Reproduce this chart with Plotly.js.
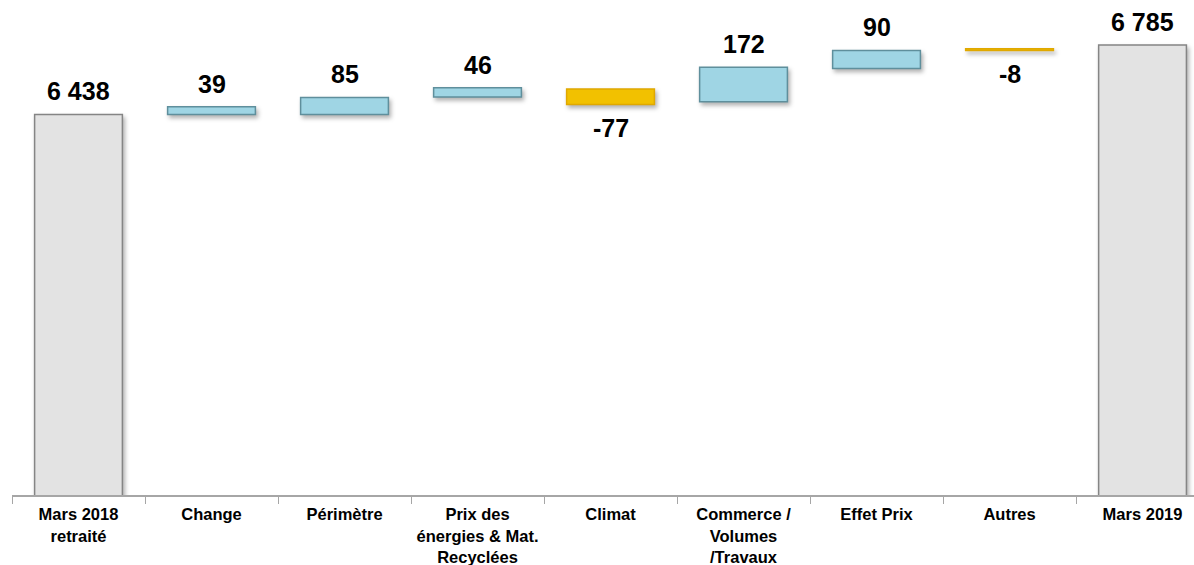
<!DOCTYPE html>
<html>
<head>
<meta charset="utf-8">
<script src="https://cdn.plot.ly/plotly-3.0.1.min.js"></script>
<style>
  html, body { margin: 0; padding: 0; background: #ffffff; }
  #chart { width: 1194px; height: 565px; }
  #chart .barlayer .point path { filter: drop-shadow(2px 3px 2px rgba(0,0,0,0.30)); }
</style>
</head>
<body>
<div id="chart"></div>
<script>
// ---- data ----
const categories = [
  'Mars 2018<br>retraité',
  'Change',
  'Périmètre',
  'Prix des<br>énergies & Mat.<br>Recyclées',
  'Climat',
  'Commerce /<br>Volumes<br>/Travaux',
  'Effet Prix',
  'Autres',
  'Mars 2019'
];
const values = [6438, 39, 85, 46, -77, 172, 90, -8, 6785];
const bases  = [0, 6438, 6438, 6525, 6565, 6502, 6668, 6766, 0];
const valueLabels = ['6 438', '39', '85', '46', '-77', '172', '90', '-8', '6 785'];
const kinds = ['total', 'up', 'up', 'up', 'down', 'up', 'up', 'down', 'total'];

// ---- styling ----
const fillByKind = { total: '#e3e3e3', up: '#9fd5e4', down: '#f2c100' };
const lineByKind = { total: '#858585', up: '#5f8f9c', down: '#e0a800' };

const trace = {
  type: 'bar',
  x: categories,
  y: values,
  base: bases,
  width: 0.66,
  marker: {
    color: kinds.map(k => fillByKind[k]),
    line: { color: kinds.map(k => lineByKind[k]), width: 1.5 }
  },
  hoverinfo: 'skip',
  cliponaxis: false
};

const annotations = categories.map((c, i) => {
  const end = bases[i] + values[i];
  const neg = values[i] < 0;
  return {
    x: c,
    y: end,
    xref: 'x',
    yref: 'y',
    text: valueLabels[i],
    showarrow: false,
    yanchor: neg ? 'top' : 'bottom',
    yshift: neg ? -8 : 7,
    font: { family: 'Liberation Sans, Arial, sans-serif', size: 25, color: '#000000', weight: 'bold' }
  };
});

const layout = {
  width: 1194,
  height: 565,
  margin: { l: 12, r: 0, t: 5, b: 70 },
  paper_bgcolor: '#ffffff',
  plot_bgcolor: '#ffffff',
  showlegend: false,
  xaxis: {
    type: 'category',
    range: [-0.5, 8.387],
    tickson: 'boundaries',
    ticks: 'outside',
    ticklen: 7,
    tickwidth: 1,
    tickcolor: '#a6a6a6',
    tickangle: 0,
    ticklabelstandoff: 4,
    showline: true,
    linecolor: '#a6a6a6',
    linewidth: 1.5,
    showgrid: false,
    zeroline: false,
    fixedrange: true,
    tickfont: { family: 'Liberation Sans, Arial, sans-serif', size: 16.5, color: '#000000', weight: 'bold' }
  },
  yaxis: {
    range: [4536, 6985],
    visible: false,
    showgrid: false,
    zeroline: false,
    fixedrange: true
  },
  annotations: annotations
};

Plotly.newPlot('chart', [trace], layout, { displayModeBar: false, staticPlot: true });
</script>
</body>
</html>
